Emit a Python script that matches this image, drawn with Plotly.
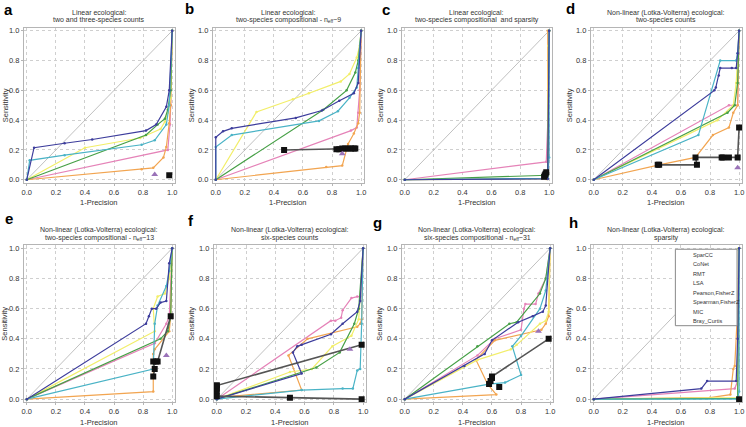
import plotly.graph_objects as go

METHODS = ["SparCC", "CoNet", "RMT", "LSA", "Pearson,FisherZ", "Spearman,FisherZ", "MIC", "Bray_Curtis"]
COLORS = {"SparCC": "#47a047", "CoNet": "#3a3a3a", "RMT": "#9a72b8", "LSA": "#3d3d9c",
          "Pearson,FisherZ": "#e583b8", "Spearman,FisherZ": "#f2ee6a", "MIC": "#4ab3c6",
          "Bray_Curtis": "#f2a551"}
TICKS = [0.0, 0.2, 0.4, 0.6, 0.8, 1.0]
TICK_LABELS = ["0.0", "0.2", "0.4", "0.6", "0.8", "1.0"]
LETTERS = ["a", "b", "c", "d", "e", "f", "g", "h"]
TITLES = [
    ("Linear ecological:", "two and three-species counts"),
    ("Linear ecological:", "two-species compositional - n<sub>eff</sub>~9"),
    ("Linear ecological:", "two-species compositional  and sparsity"),
    ("Non-linear (Lotka-Volterra) ecological:", "two-species counts"),
    ("Non-linear (Lotka-Volterra) ecological:", "two-species compositional - n<sub>eff</sub>~13"),
    ("Non-linear (Lotka-Volterra) ecological:", "six-species counts"),
    ("Non-linear (Lotka-Volterra) ecological:", "six-species compositional - n<sub>eff</sub>~31"),
    ("Non-linear (Lotka-Volterra) ecological:", "sparsity"),
]

# each panel: method -> (1-Precision values, Sensitivity values)
PANEL_A = {
    "SparCC": ([0, 0.82, 0.9, 0.95, 0.97, 0.99, 1.0], [0, 0.3, 0.37, 0.41, 0.47, 0.6, 1.0]),
    "CoNet": ([0.98], [0.03]),
    "RMT": ([0.88], [0.035]),
    "LSA": ([0, 0.05, 0.26, 0.45, 0.82, 0.89, 0.96, 0.98, 1.0], [0, 0.215, 0.245, 0.27, 0.33, 0.37, 0.49, 0.6, 1.0]),
    "Pearson,FisherZ": ([0, 0.97, 0.985, 0.99, 1.0], [0, 0.2, 0.37, 0.5, 1.0]),
    "Spearman,FisherZ": ([0, 0.4, 0.78, 0.92, 0.95, 0.97, 0.99, 1.0], [0, 0.215, 0.28, 0.34, 0.39, 0.45, 0.55, 1.0]),
    "MIC": ([0, 0.02, 0.26, 0.79, 0.88, 0.96, 0.98, 1.0], [0, 0.13, 0.165, 0.235, 0.265, 0.37, 0.5, 1.0]),
    "Bray_Curtis": ([0, 0.79, 0.87, 0.94, 0.96, 0.98, 0.99, 1.0], [0, 0.07, 0.08, 0.15, 0.22, 0.38, 0.5, 1.0]),
}
PANEL_B = {
    "SparCC": ([0, 0.74, 0.9, 0.96, 0.98, 1.0], [0, 0.47, 0.6, 0.72, 0.8, 1.0]),
    "CoNet": ([0.47, 0.83, 0.85, 0.87, 0.89, 0.91, 0.93, 0.95, 0.96], [0.2, 0.205, 0.205, 0.21, 0.21, 0.21, 0.21, 0.21, 0.21]),
    "RMT": ([0.87], [0.175]),
    "LSA": ([0, 0, 0.05, 0.11, 0.55, 0.73, 0.85, 0.95, 0.98, 1.0], [0, 0.285, 0.325, 0.345, 0.415, 0.465, 0.53, 0.58, 0.65, 1.0]),
    "Pearson,FisherZ": ([0, 0.93, 0.97, 0.98, 0.99, 1.0], [0, 0.33, 0.35, 0.45, 0.6, 1.0]),
    "Spearman,FisherZ": ([0, 0.28, 0.53, 0.64, 0.86, 0.92, 0.97, 0.99, 1.0], [0, 0.455, 0.54, 0.58, 0.66, 0.71, 0.82, 0.9, 1.0]),
    "MIC": ([0, 0, 0.11, 0.71, 0.84, 0.92, 0.97, 0.98, 1.0], [0, 0.22, 0.3, 0.395, 0.46, 0.55, 0.62, 0.75, 1.0]),
    "Bray_Curtis": ([0, 0.76, 0.87, 0.91, 0.95, 0.98, 0.99, 1.0], [0, 0.085, 0.095, 0.24, 0.31, 0.38, 0.45, 1.0]),
}
PANEL_C = {
    "SparCC": ([0, 0.96, 0.99, 1.0], [0, 0.025, 0.03, 1.0]),
    "CoNet": ([0.965, 0.97, 0.975, 0.98], [0.02, 0.03, 0.04, 0.05]),
    "RMT": ([], []),
    "LSA": ([0, 0.99, 1.0], [0, 0.005, 1.0]),
    "Pearson,FisherZ": ([0, 0.98, 0.995, 1.0], [0, 0.12, 0.5, 1.0]),
    "Spearman,FisherZ": ([0, 0.99, 0.995, 1.0], [0, 0.005, 0.9, 1.0]),
    "MIC": ([0, 0.99, 1.0, 1.0], [0, 0.01, 0.15, 1.0]),
    "Bray_Curtis": ([0, 0.98, 0.99, 0.99, 1.0], [0, 0.005, 0.01, 1.0, 1.0]),
}
PANEL_D = {
    "SparCC": ([0, 0.92, 0.97, 0.99, 1.0], [0, 0.45, 0.5, 0.65, 1.0]),
    "CoNet": ([0.44, 0.45, 0.71, 0.7, 0.88, 0.89, 0.93, 0.99, 1.0], [0.1, 0.1, 0.1, 0.15, 0.15, 0.15, 0.15, 0.15, 0.35]),
    "RMT": ([0.99], [0.08]),
    "LSA": ([0, 0.83, 0.84, 0.86, 0.87, 0.95, 0.98, 0.99, 1.0], [0, 0.6, 0.62, 0.7, 0.75, 0.75, 0.75, 0.85, 1.0]),
    "Pearson,FisherZ": ([0, 0.93, 0.99, 1.0], [0, 0.5, 0.5, 1.0]),
    "Spearman,FisherZ": ([0, 0.85, 0.96, 0.98, 1.0], [0, 0.4, 0.5, 0.65, 1.0]),
    "MIC": ([0, 0.72, 0.87, 0.98, 0.99, 1.0], [0, 0.3, 0.8, 0.8, 0.85, 1.0]),
    "Bray_Curtis": ([0, 0.45, 0.7, 0.82, 0.93, 0.96, 0.99, 1.0], [0, 0.1, 0.15, 0.3, 0.35, 0.45, 0.5, 1.0]),
}
PANEL_E = {
    "SparCC": ([0, 0.92, 0.97, 0.99, 1.0], [0, 0.4, 0.45, 0.55, 1.0]),
    "CoNet": ([0.87, 0.88, 0.87, 0.89, 0.9, 0.99], [0.15, 0.2, 0.25, 0.25, 0.25, 0.55]),
    "RMT": ([0.96], [0.29]),
    "LSA": ([0, 0.82, 0.84, 0.86, 0.89, 0.92, 0.96, 0.98, 1.0], [0, 0.5, 0.55, 0.6, 0.6, 0.64, 0.65, 0.9, 1.0]),
    "Pearson,FisherZ": ([0, 0.88, 0.96, 0.98, 1.0], [0, 0.37, 0.5, 0.55, 1.0]),
    "Spearman,FisherZ": ([0, 0.88, 0.87, 0.9, 0.95, 0.98, 1.0], [0, 0.45, 0.6, 0.68, 0.7, 0.8, 1.0]),
    "MIC": ([0, 0.87, 0.88, 0.9, 0.96, 0.98, 1.0], [0, 0.2, 0.5, 0.62, 0.75, 0.85, 1.0]),
    "Bray_Curtis": ([0, 0.87, 0.87, 0.88, 0.98, 0.99, 1.0], [0, 0.05, 0.3, 0.33, 0.45, 0.55, 1.0]),
}
PANEL_F = {
    "SparCC": ([0, 0.68, 0.84, 0.94, 0.97, 1.0], [0, 0.21, 0.31, 0.5, 0.6, 1.0]),
    "CoNet": ([0, 0, 0, 0, 0.99, None, 0, 0.5, 0.99], [0.05, 0.07, 0.09, 0.09, 0.36, None, 0.02, 0.01, 0.0]),
    "RMT": ([0.91], [0.33]),
    "LSA": ([0, 0.58, 0.55, 0.52, 0.55, 0.58, 0.78, 0.86, 0.96, 0.98, 1.0], [0, 0.17, 0.24, 0.31, 0.35, 0.36, 0.43, 0.5, 0.58, 0.65, 1.0]),
    "Pearson,FisherZ": ([0, 0.78, 0.81, 0.85, 0.86, 0.92, 0.96, 0.98, 1.0], [0, 0.52, 0.52, 0.54, 0.59, 0.67, 0.68, 0.68, 1.0]),
    "Spearman,FisherZ": ([0, 0.5, 0.65, 0.79, 0.92, 0.97, 1.0], [0, 0.18, 0.2, 0.35, 0.42, 0.53, 1.0]),
    "MIC": ([0, 0.58, 0.86, 0.93, 0.96, 0.98, 0.99, 1.0], [0, 0.06, 0.07, 0.07, 0.19, 0.2, 0.5, 1.0]),
    "Bray_Curtis": ([0, 0.58, 0.49, 0.62, 0.96, 0.98, 0.99, 1.0], [0.01, 0.06, 0.29, 0.4, 0.48, 0.5, 0.53, 1.0]),
}
PANEL_G = {
    "SparCC": ([0, 0.5, 0.72, 0.77, 0.93, 0.97, 1.0], [0, 0.35, 0.5, 0.51, 0.7, 0.8, 1.0]),
    "CoNet": ([0.58, 0.59, 0.6, 0.6, 0.99, None, 0.65], [0.1, 0.12, 0.14, 0.15, 0.4, None, 0.08]),
    "RMT": ([0.92], [0.45]),
    "LSA": ([0, 0.41, 0.55, 0.6, 0.78, 0.88, 0.95, 0.97, 1.0], [0, 0.22, 0.3, 0.39, 0.51, 0.55, 0.58, 0.62, 1.0]),
    "Pearson,FisherZ": ([0, 0.5, 0.62, 0.8, 0.82, 0.83, 0.9, 0.92, 0.97, 1.0], [0, 0.29, 0.4, 0.46, 0.6, 0.63, 0.63, 0.7, 0.8, 1.0]),
    "Spearman,FisherZ": ([0, 0.5, 0.73, 0.77, 0.93, 0.97, 0.99, 1.0], [0, 0.26, 0.33, 0.36, 0.5, 0.52, 0.58, 1.0]),
    "MIC": ([0, 0.58, 0.69, 0.8, 0.74, 0.8, 0.93, 0.97, 1.0], [0, 0.1, 0.11, 0.16, 0.35, 0.42, 0.6, 0.72, 1.0]),
    "Bray_Curtis": ([0, 0.63, 0.57, 0.49, 0.62, 0.94, 0.97, 0.99, 1.0], [0, 0.03, 0.1, 0.26, 0.39, 0.46, 0.5, 0.55, 1.0]),
}
PANEL_H = {
    "SparCC": ([0, 0.99, 1.0], [0, 0.005, 1.0]),
    "CoNet": ([1.0], [0.0]),
    "RMT": ([], []),
    "LSA": ([0, 0.74, 0.78, 0.98, 0.99, 1.0], [0, 0.07, 0.12, 0.12, 0.4, 1.0]),
    "Pearson,FisherZ": ([0, 0.97, 0.99, 1.0], [0, 0.07, 0.12, 1.0]),
    "Spearman,FisherZ": ([0, 0.99, 0.995, 1.0], [0, 0.01, 1.0, 1.0]),
    "MIC": ([0, 0.99, 1.0, 1.0], [0, 0.0, 0.05, 1.0]),
    "Bray_Curtis": ([0, 0.8, 0.94, 0.96, 0.97, 0.99, 1.0], [0, 0.01, 0.03, 0.2, 0.22, 0.6, 1.0]),
}
PANELS = [PANEL_A, PANEL_B, PANEL_C, PANEL_D, PANEL_E, PANEL_F, PANEL_G, PANEL_H]

W, H = 746, 427
# plot frames in pixels (left, right, top, bottom)
FRAMES = [(22, 174, 27, 183), (212, 364, 27, 183), (402, 553, 27, 183), (592, 744, 27, 183),
          (22, 174, 246, 404), (213, 366, 246, 404), (402, 554, 246, 404), (592, 744, 246, 404)]
LETTER_POS = [(7, 9), (189, 8), (386, 9), (572, 8), (7, 219), (190, 221), (378, 223), (575, 223)]
YLABEL_GAP = [19, 22, 22, 22, 19, 22, 22, 22]

FONT = "Liberation Sans, Arial, sans-serif"
fig = go.Figure()
layout = dict(width=W, height=H, margin=dict(l=0, r=0, t=0, b=0), paper_bgcolor="white",
              plot_bgcolor="white", showlegend=False, annotations=[], shapes=[])


def px_x(v):
    return v / W


def px_y(v):
    return 1 - v / H


for i, panel in enumerate(PANELS):
    n = i + 1
    xa, ya = ("x" if n == 1 else f"x{n}"), ("y" if n == 1 else f"y{n}")
    l, r, t, b = FRAMES[i]
    axis_common = dict(range=[-0.02, 1.02], tickvals=TICKS, ticktext=TICK_LABELS, showgrid=True,
                       gridcolor="#cfcfcf", griddash="dot", gridwidth=1, zeroline=False, showline=True,
                       mirror=True, linecolor="#b5b5b5", linewidth=1, ticks="outside", ticklen=2,
                       tickcolor="#b5b5b5", tickfont=dict(size=7.5, color="#333", family=FONT),
                       fixedrange=True)
    layout["xaxis" if n == 1 else f"xaxis{n}"] = dict(axis_common, domain=[px_x(l), px_x(r)], anchor=ya)
    layout["yaxis" if n == 1 else f"yaxis{n}"] = dict(axis_common, domain=[px_y(b), px_y(t)], anchor=xa)

    # reference diagonal
    fig.add_trace(go.Scatter(x=[0, 1], y=[0, 1], mode="lines", line=dict(color="#b0b0b0", width=0.8),
                             xaxis=xa, yaxis=ya, hoverinfo="skip"))
    for m in ["Pearson,FisherZ", "Bray_Curtis", "Spearman,FisherZ", "SparCC", "MIC", "LSA", "CoNet", "RMT"]:
        xs, ys = panel[m]
        if not xs:
            continue
        if m == "CoNet":
            marker = dict(symbol="square", size=6, color="#111")
            line = dict(color="#555", width=1.6)
        elif m == "RMT":
            marker = dict(symbol="triangle-up", size=6, color=COLORS[m])
            line = dict(color=COLORS[m], width=1.2)
        else:
            marker = dict(symbol="circle", size=2.5, color=COLORS[m])
            line = dict(color=COLORS[m], width=1.2)
        fig.add_trace(go.Scatter(x=xs, y=ys, mode="lines+markers", name=m, line=line, marker=marker,
                                 xaxis=xa, yaxis=ya))

    cx = (l + r) / 2
    line1, line2 = TITLES[i]
    layout["annotations"].append(dict(text=line1, x=px_x(cx), y=px_y(t - 15), xref="paper", yref="paper",
                                      showarrow=False, xanchor="center", yanchor="middle",
                                      font=dict(size=7, color="#333", family=FONT)))
    layout["annotations"].append(dict(text=line2, x=px_x(cx), y=px_y(t - 7.5), xref="paper", yref="paper",
                                      showarrow=False, xanchor="center", yanchor="middle",
                                      font=dict(size=7, color="#333", family=FONT)))
    layout["annotations"].append(dict(text="Sensitivity", x=px_x(l - YLABEL_GAP[i]), y=px_y((t + b) / 2),
                                      xref="paper", yref="paper", showarrow=False, textangle=-90,
                                      xanchor="center", yanchor="middle",
                                      font=dict(size=7.5, color="#333", family=FONT)))
    layout["annotations"].append(dict(text="1-Precision", x=px_x(cx), y=px_y(b + 20), xref="paper",
                                      yref="paper", showarrow=False, xanchor="center", yanchor="middle",
                                      font=dict(size=7.5, color="#333", family=FONT)))
    lx, ly = LETTER_POS[i]
    layout["annotations"].append(dict(text=f"<b>{LETTERS[i]}</b>", x=px_x(lx), y=px_y(ly), xref="paper",
                                      yref="paper", showarrow=False, xanchor="center", yanchor="middle",
                                      font=dict(size=15, color="#000", family="Liberation Sans, Arial")))

# custom legend inside panel h, on its own invisible axis
LEG = (677, 739, 250, 327)
layout["xaxis9"] = dict(domain=[px_x(LEG[0]), px_x(LEG[1])], range=[0, 1], visible=False, anchor="y9",
                        fixedrange=True)
layout["yaxis9"] = dict(domain=[px_y(LEG[3]), px_y(LEG[2])], range=[8, 0], visible=False, anchor="x9",
                        fixedrange=True)
layout["shapes"].append(dict(type="rect", xref="x9 domain", yref="y9 domain", x0=0, x1=1, y0=0, y1=1,
                             line=dict(color="#888", width=1), fillcolor="white", layer="above"))
for k, m in enumerate(METHODS):
    yv = k + 0.55
    if m == "CoNet":
        marker = dict(symbol="square", size=[0, 4, 0], color="#111")
        line = dict(color="#555", width=1.4)
    elif m == "RMT":
        marker = dict(symbol="triangle-up", size=[0, 5, 0], color=COLORS[m])
        line = dict(color=COLORS[m], width=1.2)
    else:
        marker = dict(symbol="circle", size=[0, 2.5, 0], color=COLORS[m])
        line = dict(color=COLORS[m], width=1.2)
    fig.add_trace(go.Scatter(x=[0.08, 0.15, 0.22], y=[yv, yv, yv], mode="lines+markers", line=line,
                             marker=marker, xaxis="x9", yaxis="y9", hoverinfo="skip"))
    layout["annotations"].append(dict(text=m, x=0.25, y=yv, xref="x9", yref="y9", showarrow=False,
                                      xanchor="left", yanchor="middle",
                                      font=dict(size=5.6, color="#333", family=FONT)))

fig.update_layout(**layout)
fig.write_html("out.html", config={"displayModeBar": False},
               post_script="document.body.style.margin='0';document.body.style.overflow='hidden';")
